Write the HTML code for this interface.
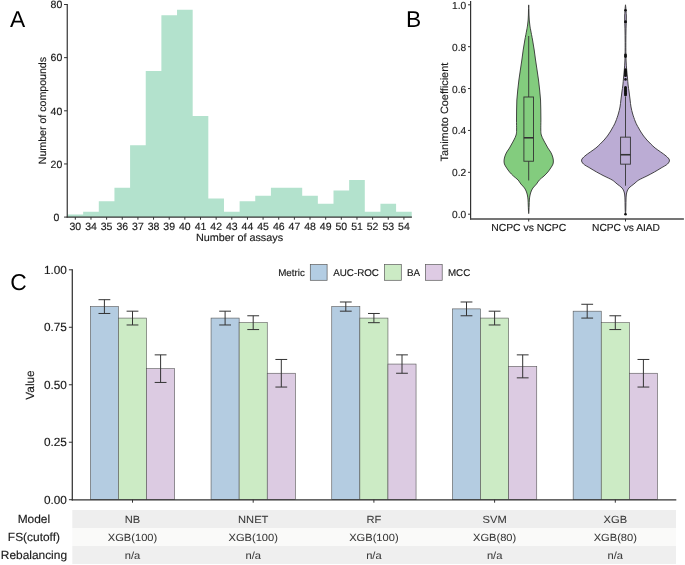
<!DOCTYPE html>
<html><head><meta charset="utf-8"><title>Figure</title>
<style>
html,body{margin:0;padding:0;background:#fff;}
body{width:685px;height:565px;overflow:hidden;}
svg{display:block;font-family:"Liberation Sans",sans-serif;will-change:transform;text-rendering:geometricPrecision;}
</style></head>
<body>
<svg width="685" height="565" viewBox="0 0 685 565">
<rect width="685" height="565" fill="#fff"/>
<path d="M67.5,217.1 L67.5,214.44 L83.15,214.44 L83.15,211.78 L98.79,211.78 L98.79,201.16 L114.44,201.16 L114.44,187.87 L130.09,187.87 L130.09,145.35 L145.73,145.35 L145.74,70.94 L161.38,70.94 L161.38,15.13 L177.03,15.13 L177.03,9.81 L192.68,9.81 L192.68,116.11 L208.32,116.11 L208.32,198.5 L223.97,198.5 L223.97,211.78 L239.62,211.78 L239.62,201.16 L255.26,201.16 L255.26,195.84 L270.91,195.84 L270.91,187.87 L286.56,187.87 L286.56,187.87 L302.2,187.87 L302.21,195.84 L317.85,195.84 L317.85,203.81 L333.5,203.81 L333.5,190.52 L349.15,190.52 L349.15,179.89 L364.79,179.89 L364.79,211.78 L380.44,211.78 L380.44,203.81 L396.09,203.81 L396.09,211.78 L411.73,211.78 L411.73,217.1 Z" fill="#b3e2cd"/>
<line x1="67.25" y1="4" x2="67.25" y2="217.6" stroke="#333333" stroke-width="1.2"/>
<line x1="64.05" y1="217.1" x2="67.25" y2="217.1" stroke="#333333" stroke-width="1"/>
<text font-size="10.5" text-anchor="middle" fill="#1a1a1a" stroke="#1a1a1a" stroke-width="0.15" transform="translate(56.45 220.86)">0</text>
<line x1="64.05" y1="163.95" x2="67.25" y2="163.95" stroke="#333333" stroke-width="1"/>
<text font-size="10.5" text-anchor="middle" fill="#1a1a1a" stroke="#1a1a1a" stroke-width="0.15" transform="translate(56.45 167.71)">20</text>
<line x1="64.05" y1="110.8" x2="67.25" y2="110.8" stroke="#333333" stroke-width="1"/>
<text font-size="10.5" text-anchor="middle" fill="#1a1a1a" stroke="#1a1a1a" stroke-width="0.15" transform="translate(56.45 114.56)">40</text>
<line x1="64.05" y1="57.65" x2="67.25" y2="57.65" stroke="#333333" stroke-width="1"/>
<text font-size="10.5" text-anchor="middle" fill="#1a1a1a" stroke="#1a1a1a" stroke-width="0.15" transform="translate(56.45 61.41)">60</text>
<line x1="64.05" y1="4.5" x2="67.25" y2="4.5" stroke="#333333" stroke-width="1"/>
<text font-size="10.5" text-anchor="middle" fill="#1a1a1a" stroke="#1a1a1a" stroke-width="0.15" transform="translate(56.45 8.26)">80</text>
<line x1="66.65" y1="217.1" x2="411.9" y2="217.1" stroke="#333333" stroke-width="1.3"/>
<line x1="75.32" y1="217.1" x2="75.32" y2="219.7" stroke="#333333" stroke-width="1"/>
<text font-size="10.5" text-anchor="middle" fill="#1a1a1a" stroke="#1a1a1a" stroke-width="0.15" transform="translate(75.32 230.1)">30</text>
<line x1="90.97" y1="217.1" x2="90.97" y2="219.7" stroke="#333333" stroke-width="1"/>
<text font-size="10.5" text-anchor="middle" fill="#1a1a1a" stroke="#1a1a1a" stroke-width="0.15" transform="translate(90.97 230.1)">34</text>
<line x1="106.62" y1="217.1" x2="106.62" y2="219.7" stroke="#333333" stroke-width="1"/>
<text font-size="10.5" text-anchor="middle" fill="#1a1a1a" stroke="#1a1a1a" stroke-width="0.15" transform="translate(106.62 230.1)">35</text>
<line x1="122.26" y1="217.1" x2="122.26" y2="219.7" stroke="#333333" stroke-width="1"/>
<text font-size="10.5" text-anchor="middle" fill="#1a1a1a" stroke="#1a1a1a" stroke-width="0.15" transform="translate(122.26 230.1)">36</text>
<line x1="137.91" y1="217.1" x2="137.91" y2="219.7" stroke="#333333" stroke-width="1"/>
<text font-size="10.5" text-anchor="middle" fill="#1a1a1a" stroke="#1a1a1a" stroke-width="0.15" transform="translate(137.91 230.1)">37</text>
<line x1="153.56" y1="217.1" x2="153.56" y2="219.7" stroke="#333333" stroke-width="1"/>
<text font-size="10.5" text-anchor="middle" fill="#1a1a1a" stroke="#1a1a1a" stroke-width="0.15" transform="translate(153.56 230.1)">38</text>
<line x1="169.21" y1="217.1" x2="169.21" y2="219.7" stroke="#333333" stroke-width="1"/>
<text font-size="10.5" text-anchor="middle" fill="#1a1a1a" stroke="#1a1a1a" stroke-width="0.15" transform="translate(169.21 230.1)">39</text>
<line x1="184.85" y1="217.1" x2="184.85" y2="219.7" stroke="#333333" stroke-width="1"/>
<text font-size="10.5" text-anchor="middle" fill="#1a1a1a" stroke="#1a1a1a" stroke-width="0.15" transform="translate(184.85 230.1)">40</text>
<line x1="200.5" y1="217.1" x2="200.5" y2="219.7" stroke="#333333" stroke-width="1"/>
<text font-size="10.5" text-anchor="middle" fill="#1a1a1a" stroke="#1a1a1a" stroke-width="0.15" transform="translate(200.5 230.1)">41</text>
<line x1="216.15" y1="217.1" x2="216.15" y2="219.7" stroke="#333333" stroke-width="1"/>
<text font-size="10.5" text-anchor="middle" fill="#1a1a1a" stroke="#1a1a1a" stroke-width="0.15" transform="translate(216.15 230.1)">42</text>
<line x1="231.79" y1="217.1" x2="231.79" y2="219.7" stroke="#333333" stroke-width="1"/>
<text font-size="10.5" text-anchor="middle" fill="#1a1a1a" stroke="#1a1a1a" stroke-width="0.15" transform="translate(231.79 230.1)">43</text>
<line x1="247.44" y1="217.1" x2="247.44" y2="219.7" stroke="#333333" stroke-width="1"/>
<text font-size="10.5" text-anchor="middle" fill="#1a1a1a" stroke="#1a1a1a" stroke-width="0.15" transform="translate(247.44 230.1)">44</text>
<line x1="263.09" y1="217.1" x2="263.09" y2="219.7" stroke="#333333" stroke-width="1"/>
<text font-size="10.5" text-anchor="middle" fill="#1a1a1a" stroke="#1a1a1a" stroke-width="0.15" transform="translate(263.09 230.1)">45</text>
<line x1="278.73" y1="217.1" x2="278.73" y2="219.7" stroke="#333333" stroke-width="1"/>
<text font-size="10.5" text-anchor="middle" fill="#1a1a1a" stroke="#1a1a1a" stroke-width="0.15" transform="translate(278.73 230.1)">46</text>
<line x1="294.38" y1="217.1" x2="294.38" y2="219.7" stroke="#333333" stroke-width="1"/>
<text font-size="10.5" text-anchor="middle" fill="#1a1a1a" stroke="#1a1a1a" stroke-width="0.15" transform="translate(294.38 230.1)">47</text>
<line x1="310.03" y1="217.1" x2="310.03" y2="219.7" stroke="#333333" stroke-width="1"/>
<text font-size="10.5" text-anchor="middle" fill="#1a1a1a" stroke="#1a1a1a" stroke-width="0.15" transform="translate(310.03 230.1)">48</text>
<line x1="325.68" y1="217.1" x2="325.68" y2="219.7" stroke="#333333" stroke-width="1"/>
<text font-size="10.5" text-anchor="middle" fill="#1a1a1a" stroke="#1a1a1a" stroke-width="0.15" transform="translate(325.68 230.1)">49</text>
<line x1="341.32" y1="217.1" x2="341.32" y2="219.7" stroke="#333333" stroke-width="1"/>
<text font-size="10.5" text-anchor="middle" fill="#1a1a1a" stroke="#1a1a1a" stroke-width="0.15" transform="translate(341.32 230.1)">50</text>
<line x1="356.97" y1="217.1" x2="356.97" y2="219.7" stroke="#333333" stroke-width="1"/>
<text font-size="10.5" text-anchor="middle" fill="#1a1a1a" stroke="#1a1a1a" stroke-width="0.15" transform="translate(356.97 230.1)">51</text>
<line x1="372.62" y1="217.1" x2="372.62" y2="219.7" stroke="#333333" stroke-width="1"/>
<text font-size="10.5" text-anchor="middle" fill="#1a1a1a" stroke="#1a1a1a" stroke-width="0.15" transform="translate(372.62 230.1)">52</text>
<line x1="388.26" y1="217.1" x2="388.26" y2="219.7" stroke="#333333" stroke-width="1"/>
<text font-size="10.5" text-anchor="middle" fill="#1a1a1a" stroke="#1a1a1a" stroke-width="0.15" transform="translate(388.26 230.1)">53</text>
<line x1="403.91" y1="217.1" x2="403.91" y2="219.7" stroke="#333333" stroke-width="1"/>
<text font-size="10.5" text-anchor="middle" fill="#1a1a1a" stroke="#1a1a1a" stroke-width="0.15" transform="translate(403.91 230.1)">54</text>
<text font-size="10.5" text-anchor="middle" fill="#1a1a1a" stroke="#1a1a1a" stroke-width="0.15" transform="translate(239.5 241.3) scale(1.03 1)">Number of assays</text>
<text font-size="10.5" text-anchor="middle" fill="#1a1a1a" stroke="#1a1a1a" stroke-width="0.15" transform="translate(46 110.6) rotate(-90) scale(1.01 1)">Number of compounds</text>
<text font-size="22.8" text-anchor="start" fill="#000" transform="translate(10 26.8)">A</text>
<path d="M528.7,4.9 C528.73,5.75 528.85,8.32 528.9,10 C528.95,11.68 528.94,13.33 529,15 C529.06,16.67 529.12,18.33 529.25,20 C529.38,21.67 529.57,23.33 529.8,25 C530.03,26.67 530.19,27.5 530.65,30 C531.11,32.5 531.96,36.67 532.55,40 C533.14,43.33 533.7,46.67 534.2,50 C534.7,53.33 535.08,56.67 535.55,60 C536.03,63.33 536.56,66.67 537.05,70 C537.54,73.33 538.07,76.67 538.5,80 C538.93,83.33 539.31,86.67 539.65,90 C539.99,93.33 540.36,96.67 540.55,100 C540.74,103.33 540.74,106.67 540.8,110 C540.86,113.33 540.9,116.67 540.9,120 C540.9,123.33 540.73,127.5 540.8,130 C540.87,132.5 540.85,133.33 541.3,135 C541.75,136.67 542.77,138.5 543.5,140 C544.23,141.5 544.97,142.67 545.7,144 C546.43,145.33 547.08,146.67 547.9,148 C548.72,149.33 549.85,150.67 550.6,152 C551.35,153.33 551.95,154.67 552.4,156 C552.85,157.33 553.2,158.67 553.3,160 C553.4,161.33 553.43,162.67 553,164 C552.57,165.33 551.56,166.67 550.7,168 C549.84,169.33 548.97,170.67 547.85,172 C546.73,173.33 545.42,174.67 544,176 C542.58,177.33 540.55,178.67 539.3,180 C538.05,181.33 537.57,182.67 536.5,184 C535.43,185.33 533.83,186.67 532.9,188 C531.97,189.33 531.41,190.67 530.9,192 C530.39,193.33 530.11,194.67 529.85,196 C529.59,197.33 529.47,198.5 529.35,200 C529.23,201.5 529.22,203.33 529.15,205 C529.08,206.67 529.03,208.57 528.95,210 C528.88,211.43 528.78,213.6 528.7,213.6 C528.62,213.6 528.53,211.43 528.45,210 C528.38,208.57 528.32,206.67 528.25,205 C528.18,203.33 528.17,201.5 528.05,200 C527.93,198.5 527.81,197.33 527.55,196 C527.29,194.67 527.01,193.33 526.5,192 C525.99,190.67 525.43,189.33 524.5,188 C523.57,186.67 521.97,185.33 520.9,184 C519.83,182.67 519.35,181.33 518.1,180 C516.85,178.67 514.83,177.33 513.4,176 C511.98,174.67 510.67,173.33 509.55,172 C508.43,170.67 507.56,169.33 506.7,168 C505.84,166.67 504.83,165.33 504.4,164 C503.97,162.67 504,161.33 504.1,160 C504.2,158.67 504.55,157.33 505,156 C505.45,154.67 506.05,153.33 506.8,152 C507.55,150.67 508.68,149.33 509.5,148 C510.32,146.67 510.97,145.33 511.7,144 C512.43,142.67 513.17,141.5 513.9,140 C514.63,138.5 515.65,136.67 516.1,135 C516.55,133.33 516.53,132.5 516.6,130 C516.67,127.5 516.5,123.33 516.5,120 C516.5,116.67 516.54,113.33 516.6,110 C516.66,106.67 516.66,103.33 516.85,100 C517.04,96.67 517.41,93.33 517.75,90 C518.09,86.67 518.47,83.33 518.9,80 C519.33,76.67 519.86,73.33 520.35,70 C520.84,66.67 521.38,63.33 521.85,60 C522.33,56.67 522.7,53.33 523.2,50 C523.7,46.67 524.26,43.33 524.85,40 C525.44,36.67 526.29,32.5 526.75,30 C527.21,27.5 527.37,26.67 527.6,25 C527.83,23.33 528.02,21.67 528.15,20 C528.28,18.33 528.34,16.67 528.4,15 C528.46,13.33 528.45,11.68 528.5,10 C528.55,8.32 528.67,5.75 528.7,4.9 Z" fill="#83cc7e" stroke="#333" stroke-width="0.9" stroke-linejoin="round"/>
<path d="M625.5,4.8 C625.56,5.33 625.77,6.97 625.85,8 C625.93,9.03 625.92,9.67 626,11 C626.08,12.33 626.3,14.33 626.35,16 C626.4,17.67 626.34,19.33 626.3,21 C626.26,22.67 626.16,24.17 626.1,26 C626.04,27.83 625.99,29.67 625.95,32 C625.91,34.33 625.87,37 625.85,40 C625.83,43 625.83,47.33 625.85,50 C625.87,52.67 625.9,54 625.95,56 C626,58 626.02,59.67 626.15,62 C626.27,64.33 626.48,67.33 626.7,70 C626.93,72.67 627.27,75.5 627.5,78 C627.73,80.5 627.83,82.67 628.1,85 C628.37,87.33 628.77,89.5 629.1,92 C629.43,94.5 629.78,97.5 630.1,100 C630.42,102.5 630.57,104.67 631,107 C631.43,109.33 632.02,111.67 632.7,114 C633.38,116.33 634.4,119.17 635.1,121 C635.8,122.83 636.32,123.83 636.9,125 C637.48,126.17 637.93,126.83 638.6,128 C639.27,129.17 640.07,130.67 640.9,132 C641.73,133.33 642.6,134.67 643.6,136 C644.6,137.33 645.7,138.67 646.9,140 C648.1,141.33 649.43,142.67 650.8,144 C652.17,145.33 653.45,146.67 655.1,148 C656.75,149.33 658.87,150.67 660.7,152 C662.53,153.33 664.65,154.67 666.1,156 C667.55,157.33 669.17,158.67 669.4,160 C669.63,161.33 668.88,162.67 667.5,164 C666.12,165.33 663.28,166.67 661.1,168 C658.92,169.33 656.77,170.67 654.4,172 C652.03,173.33 649.5,174.67 646.9,176 C644.3,177.33 640.97,178.67 638.8,180 C636.63,181.33 635.55,182.67 633.9,184 C632.25,185.33 630.07,186.67 628.9,188 C627.73,189.33 627.3,190.67 626.85,192 C626.4,193.33 626.34,194.67 626.2,196 C626.06,197.33 626.05,198.5 626,200 C625.95,201.5 625.93,203.33 625.9,205 C625.87,206.67 625.87,208.45 625.8,210 C625.73,211.55 625.6,214.3 625.5,214.3 C625.4,214.3 625.27,211.55 625.2,210 C625.13,208.45 625.13,206.67 625.1,205 C625.07,203.33 625.05,201.5 625,200 C624.95,198.5 624.94,197.33 624.8,196 C624.66,194.67 624.6,193.33 624.15,192 C623.7,190.67 623.27,189.33 622.1,188 C620.93,186.67 618.75,185.33 617.1,184 C615.45,182.67 614.37,181.33 612.2,180 C610.03,178.67 606.7,177.33 604.1,176 C601.5,174.67 598.97,173.33 596.6,172 C594.23,170.67 592.08,169.33 589.9,168 C587.72,166.67 584.88,165.33 583.5,164 C582.12,162.67 581.37,161.33 581.6,160 C581.83,158.67 583.45,157.33 584.9,156 C586.35,154.67 588.47,153.33 590.3,152 C592.13,150.67 594.25,149.33 595.9,148 C597.55,146.67 598.83,145.33 600.2,144 C601.57,142.67 602.9,141.33 604.1,140 C605.3,138.67 606.4,137.33 607.4,136 C608.4,134.67 609.27,133.33 610.1,132 C610.93,130.67 611.73,129.17 612.4,128 C613.07,126.83 613.52,126.17 614.1,125 C614.68,123.83 615.2,122.83 615.9,121 C616.6,119.17 617.62,116.33 618.3,114 C618.98,111.67 619.57,109.33 620,107 C620.43,104.67 620.58,102.5 620.9,100 C621.22,97.5 621.57,94.5 621.9,92 C622.23,89.5 622.63,87.33 622.9,85 C623.17,82.67 623.27,80.5 623.5,78 C623.73,75.5 624.07,72.67 624.3,70 C624.52,67.33 624.73,64.33 624.85,62 C624.98,59.67 625,58 625.05,56 C625.1,54 625.13,52.67 625.15,50 C625.17,47.33 625.17,43 625.15,40 C625.13,37 625.09,34.33 625.05,32 C625.01,29.67 624.96,27.83 624.9,26 C624.84,24.17 624.74,22.67 624.7,21 C624.66,19.33 624.6,17.67 624.65,16 C624.7,14.33 624.92,12.33 625,11 C625.08,9.67 625.07,9.03 625.15,8 C625.23,6.97 625.44,5.33 625.5,4.8 Z" fill="#bbacd4" stroke="#333" stroke-width="0.9" stroke-linejoin="round"/>
<line x1="528.7" y1="36" x2="528.7" y2="97" stroke="#333" stroke-width="0.9"/>
<line x1="528.7" y1="161.22" x2="528.7" y2="180.49" stroke="#333" stroke-width="0.9"/>
<rect x="523.9" y="97" width="9.6" height="64.22" fill="none" stroke="#333" stroke-width="0.9"/>
<line x1="523.9" y1="137.77" x2="533.5" y2="137.77" stroke="#333" stroke-width="1.6"/>
<line x1="625.5" y1="96.52" x2="625.5" y2="137.14" stroke="#333" stroke-width="0.9"/>
<line x1="625.5" y1="164.15" x2="625.5" y2="185.72" stroke="#333" stroke-width="0.9"/>
<rect x="620.6" y="137.14" width="9.8" height="27.01" fill="none" stroke="#333" stroke-width="0.9"/>
<line x1="620.6" y1="154.73" x2="630.4" y2="154.73" stroke="#333" stroke-width="1.6"/>
<circle cx="625.5" cy="10.2" r="1.3" fill="#111"/>
<circle cx="625.5" cy="21.8" r="1.5" fill="#111"/>
<circle cx="625.5" cy="55" r="1.4" fill="#111"/>
<circle cx="625.5" cy="56.5" r="1.4" fill="#111"/>
<circle cx="625.5" cy="69.8" r="1.5" fill="#111"/>
<circle cx="625.5" cy="71.2" r="1.5" fill="#111"/>
<circle cx="625.5" cy="72.6" r="1.5" fill="#111"/>
<circle cx="625.5" cy="74" r="1.5" fill="#111"/>
<circle cx="625.5" cy="75.4" r="1.5" fill="#111"/>
<circle cx="625.5" cy="79.4" r="1.3" fill="#111"/>
<circle cx="625.5" cy="87.6" r="1.5" fill="#111"/>
<circle cx="625.5" cy="89" r="1.5" fill="#111"/>
<circle cx="625.5" cy="90.4" r="1.5" fill="#111"/>
<circle cx="625.5" cy="91.8" r="1.5" fill="#111"/>
<circle cx="625.5" cy="93.2" r="1.5" fill="#111"/>
<circle cx="625.5" cy="94.8" r="1.5" fill="#111"/>
<circle cx="625.5" cy="214.3" r="1.3" fill="#111"/>
<line x1="470.6" y1="1" x2="470.6" y2="219.5" stroke="#333333" stroke-width="1.2"/>
<line x1="468" y1="214.2" x2="470.6" y2="214.2" stroke="#333333" stroke-width="1"/>
<text font-size="10.2" text-anchor="end" fill="#1a1a1a" stroke="#1a1a1a" stroke-width="0.15" transform="translate(466.2 218.2)">0.0</text>
<line x1="468" y1="172.32" x2="470.6" y2="172.32" stroke="#333333" stroke-width="1"/>
<text font-size="10.2" text-anchor="end" fill="#1a1a1a" stroke="#1a1a1a" stroke-width="0.15" transform="translate(466.2 176.32)">0.2</text>
<line x1="468" y1="130.44" x2="470.6" y2="130.44" stroke="#333333" stroke-width="1"/>
<text font-size="10.2" text-anchor="end" fill="#1a1a1a" stroke="#1a1a1a" stroke-width="0.15" transform="translate(466.2 134.44)">0.4</text>
<line x1="468" y1="88.56" x2="470.6" y2="88.56" stroke="#333333" stroke-width="1"/>
<text font-size="10.2" text-anchor="end" fill="#1a1a1a" stroke="#1a1a1a" stroke-width="0.15" transform="translate(466.2 92.56)">0.6</text>
<line x1="468" y1="46.68" x2="470.6" y2="46.68" stroke="#333333" stroke-width="1"/>
<text font-size="10.2" text-anchor="end" fill="#1a1a1a" stroke="#1a1a1a" stroke-width="0.15" transform="translate(466.2 50.68)">0.8</text>
<line x1="468" y1="4.8" x2="470.6" y2="4.8" stroke="#333333" stroke-width="1"/>
<text font-size="10.2" text-anchor="end" fill="#1a1a1a" stroke="#1a1a1a" stroke-width="0.15" transform="translate(466.2 8.8)">1.0</text>
<line x1="470" y1="218.9" x2="683.9" y2="218.9" stroke="#474747" stroke-width="1.5"/>
<line x1="528.7" y1="218.9" x2="528.7" y2="221.5" stroke="#333333" stroke-width="1"/>
<text font-size="10.2" text-anchor="middle" fill="#1a1a1a" stroke="#1a1a1a" stroke-width="0.15" transform="translate(528.7 231) scale(1.02 1)">NCPC vs NCPC</text>
<line x1="625.5" y1="218.9" x2="625.5" y2="221.5" stroke="#333333" stroke-width="1"/>
<text font-size="10.2" text-anchor="middle" fill="#1a1a1a" stroke="#1a1a1a" stroke-width="0.15" transform="translate(626 231)">NCPC vs AIAD</text>
<text font-size="10.6" text-anchor="middle" fill="#1a1a1a" stroke="#1a1a1a" stroke-width="0.15" transform="translate(448 112.1) rotate(-90) scale(1.03 1)">Tanimoto Coefficient</text>
<text font-size="22.8" text-anchor="start" fill="#000" transform="translate(405.9 26.8)">B</text>
<rect x="90.35" y="306.58" width="28.1" height="193.12" fill="#b4cce1" stroke="#555" stroke-width="0.6"/>
<rect x="118.45" y="318.08" width="28.1" height="181.62" fill="#ccebc5" stroke="#555" stroke-width="0.6"/>
<rect x="146.55" y="368.66" width="28.1" height="131.04" fill="#dccbe2" stroke="#555" stroke-width="0.6"/>
<line x1="104.4" y1="299.69" x2="104.4" y2="313.48" stroke="#333" stroke-width="1"/>
<line x1="98.5" y1="299.69" x2="110.3" y2="299.69" stroke="#333" stroke-width="1"/>
<line x1="98.5" y1="313.48" x2="110.3" y2="313.48" stroke="#333" stroke-width="1"/>
<line x1="132.5" y1="311.18" x2="132.5" y2="324.98" stroke="#333" stroke-width="1"/>
<line x1="126.6" y1="311.18" x2="138.4" y2="311.18" stroke="#333" stroke-width="1"/>
<line x1="126.6" y1="324.98" x2="138.4" y2="324.98" stroke="#333" stroke-width="1"/>
<line x1="160.6" y1="354.86" x2="160.6" y2="382.45" stroke="#333" stroke-width="1"/>
<line x1="154.7" y1="354.86" x2="166.5" y2="354.86" stroke="#333" stroke-width="1"/>
<line x1="154.7" y1="382.45" x2="166.5" y2="382.45" stroke="#333" stroke-width="1"/>
<rect x="211.05" y="318.08" width="28.1" height="181.62" fill="#b4cce1" stroke="#555" stroke-width="0.6"/>
<rect x="239.15" y="322.68" width="28.1" height="177.02" fill="#ccebc5" stroke="#555" stroke-width="0.6"/>
<rect x="267.25" y="373.25" width="28.1" height="126.44" fill="#dccbe2" stroke="#555" stroke-width="0.6"/>
<line x1="225.1" y1="311.18" x2="225.1" y2="324.98" stroke="#333" stroke-width="1"/>
<line x1="219.2" y1="311.18" x2="231" y2="311.18" stroke="#333" stroke-width="1"/>
<line x1="219.2" y1="324.98" x2="231" y2="324.98" stroke="#333" stroke-width="1"/>
<line x1="253.2" y1="315.78" x2="253.2" y2="329.57" stroke="#333" stroke-width="1"/>
<line x1="247.3" y1="315.78" x2="259.1" y2="315.78" stroke="#333" stroke-width="1"/>
<line x1="247.3" y1="329.57" x2="259.1" y2="329.57" stroke="#333" stroke-width="1"/>
<line x1="281.3" y1="359.46" x2="281.3" y2="387.05" stroke="#333" stroke-width="1"/>
<line x1="275.4" y1="359.46" x2="287.2" y2="359.46" stroke="#333" stroke-width="1"/>
<line x1="275.4" y1="387.05" x2="287.2" y2="387.05" stroke="#333" stroke-width="1"/>
<rect x="331.75" y="306.58" width="28.1" height="193.12" fill="#b4cce1" stroke="#555" stroke-width="0.6"/>
<rect x="359.85" y="318.08" width="28.1" height="181.62" fill="#ccebc5" stroke="#555" stroke-width="0.6"/>
<rect x="387.95" y="364.06" width="28.1" height="135.64" fill="#dccbe2" stroke="#555" stroke-width="0.6"/>
<line x1="345.8" y1="301.99" x2="345.8" y2="311.18" stroke="#333" stroke-width="1"/>
<line x1="339.9" y1="301.99" x2="351.7" y2="301.99" stroke="#333" stroke-width="1"/>
<line x1="339.9" y1="311.18" x2="351.7" y2="311.18" stroke="#333" stroke-width="1"/>
<line x1="373.9" y1="313.48" x2="373.9" y2="322.68" stroke="#333" stroke-width="1"/>
<line x1="368" y1="313.48" x2="379.8" y2="313.48" stroke="#333" stroke-width="1"/>
<line x1="368" y1="322.68" x2="379.8" y2="322.68" stroke="#333" stroke-width="1"/>
<line x1="402" y1="354.86" x2="402" y2="373.25" stroke="#333" stroke-width="1"/>
<line x1="396.1" y1="354.86" x2="407.9" y2="354.86" stroke="#333" stroke-width="1"/>
<line x1="396.1" y1="373.25" x2="407.9" y2="373.25" stroke="#333" stroke-width="1"/>
<rect x="452.45" y="308.88" width="28.1" height="190.82" fill="#b4cce1" stroke="#555" stroke-width="0.6"/>
<rect x="480.55" y="318.08" width="28.1" height="181.62" fill="#ccebc5" stroke="#555" stroke-width="0.6"/>
<rect x="508.65" y="366.36" width="28.1" height="133.34" fill="#dccbe2" stroke="#555" stroke-width="0.6"/>
<line x1="466.5" y1="301.99" x2="466.5" y2="315.78" stroke="#333" stroke-width="1"/>
<line x1="460.6" y1="301.99" x2="472.4" y2="301.99" stroke="#333" stroke-width="1"/>
<line x1="460.6" y1="315.78" x2="472.4" y2="315.78" stroke="#333" stroke-width="1"/>
<line x1="494.6" y1="311.18" x2="494.6" y2="324.98" stroke="#333" stroke-width="1"/>
<line x1="488.7" y1="311.18" x2="500.5" y2="311.18" stroke="#333" stroke-width="1"/>
<line x1="488.7" y1="324.98" x2="500.5" y2="324.98" stroke="#333" stroke-width="1"/>
<line x1="522.7" y1="354.86" x2="522.7" y2="377.85" stroke="#333" stroke-width="1"/>
<line x1="516.8" y1="354.86" x2="528.6" y2="354.86" stroke="#333" stroke-width="1"/>
<line x1="516.8" y1="377.85" x2="528.6" y2="377.85" stroke="#333" stroke-width="1"/>
<rect x="573.15" y="311.18" width="28.1" height="188.52" fill="#b4cce1" stroke="#555" stroke-width="0.6"/>
<rect x="601.25" y="322.68" width="28.1" height="177.02" fill="#ccebc5" stroke="#555" stroke-width="0.6"/>
<rect x="629.35" y="373.25" width="28.1" height="126.44" fill="#dccbe2" stroke="#555" stroke-width="0.6"/>
<line x1="587.2" y1="304.28" x2="587.2" y2="318.08" stroke="#333" stroke-width="1"/>
<line x1="581.3" y1="304.28" x2="593.1" y2="304.28" stroke="#333" stroke-width="1"/>
<line x1="581.3" y1="318.08" x2="593.1" y2="318.08" stroke="#333" stroke-width="1"/>
<line x1="615.3" y1="315.78" x2="615.3" y2="329.57" stroke="#333" stroke-width="1"/>
<line x1="609.4" y1="315.78" x2="621.2" y2="315.78" stroke="#333" stroke-width="1"/>
<line x1="609.4" y1="329.57" x2="621.2" y2="329.57" stroke="#333" stroke-width="1"/>
<line x1="643.4" y1="359.46" x2="643.4" y2="387.05" stroke="#333" stroke-width="1"/>
<line x1="637.5" y1="359.46" x2="649.3" y2="359.46" stroke="#333" stroke-width="1"/>
<line x1="637.5" y1="387.05" x2="649.3" y2="387.05" stroke="#333" stroke-width="1"/>
<line x1="72.3" y1="269.2" x2="72.3" y2="500.5" stroke="#333333" stroke-width="1.25"/>
<line x1="68.9" y1="499.7" x2="72.3" y2="499.7" stroke="#333333" stroke-width="1"/>
<text font-size="11.8" text-anchor="end" fill="#1a1a1a" stroke="#1a1a1a" stroke-width="0.15" transform="translate(66.9 503.8)">0.00</text>
<line x1="68.9" y1="442.22" x2="72.3" y2="442.22" stroke="#333333" stroke-width="1"/>
<text font-size="11.8" text-anchor="end" fill="#1a1a1a" stroke="#1a1a1a" stroke-width="0.15" transform="translate(66.9 446.32)">0.25</text>
<line x1="68.9" y1="384.75" x2="72.3" y2="384.75" stroke="#333333" stroke-width="1"/>
<text font-size="11.8" text-anchor="end" fill="#1a1a1a" stroke="#1a1a1a" stroke-width="0.15" transform="translate(66.9 388.85)">0.50</text>
<line x1="68.9" y1="327.27" x2="72.3" y2="327.27" stroke="#333333" stroke-width="1"/>
<text font-size="11.8" text-anchor="end" fill="#1a1a1a" stroke="#1a1a1a" stroke-width="0.15" transform="translate(66.9 331.38)">0.75</text>
<line x1="68.9" y1="269.8" x2="72.3" y2="269.8" stroke="#333333" stroke-width="1"/>
<text font-size="11.8" text-anchor="end" fill="#1a1a1a" stroke="#1a1a1a" stroke-width="0.15" transform="translate(66.9 273.9)">1.00</text>
<line x1="71.7" y1="499.9" x2="676.3" y2="499.9" stroke="#333333" stroke-width="1.35"/>
<line x1="132.5" y1="499.7" x2="132.5" y2="502.7" stroke="#333333" stroke-width="1"/>
<line x1="253.2" y1="499.7" x2="253.2" y2="502.7" stroke="#333333" stroke-width="1"/>
<line x1="373.9" y1="499.7" x2="373.9" y2="502.7" stroke="#333333" stroke-width="1"/>
<line x1="494.6" y1="499.7" x2="494.6" y2="502.7" stroke="#333333" stroke-width="1"/>
<line x1="615.3" y1="499.7" x2="615.3" y2="502.7" stroke="#333333" stroke-width="1"/>
<text font-size="11.8" text-anchor="middle" fill="#1a1a1a" stroke="#1a1a1a" stroke-width="0.15" transform="translate(33.9 385) rotate(-90)">Value</text>
<text font-size="22.8" text-anchor="start" fill="#000" transform="translate(10.3 289.5)">C</text>
<text font-size="9.8" text-anchor="start" fill="#1a1a1a" stroke="#1a1a1a" stroke-width="0.15" transform="translate(278.2 276)">Metric</text>
<rect x="310.3" y="264.6" width="16.8" height="15.7" fill="#b3cde3" stroke="#5a5a5a" stroke-width="0.7"/>
<text font-size="9.8" text-anchor="start" fill="#1a1a1a" stroke="#1a1a1a" stroke-width="0.15" transform="translate(333.2 276)">AUC-ROC</text>
<rect x="384.5" y="264.6" width="16.8" height="15.7" fill="#ccebc5" stroke="#5a5a5a" stroke-width="0.7"/>
<text font-size="9.8" text-anchor="start" fill="#1a1a1a" stroke="#1a1a1a" stroke-width="0.15" transform="translate(407 276)">BA</text>
<rect x="425.4" y="264.6" width="16.8" height="15.7" fill="#decbe4" stroke="#5a5a5a" stroke-width="0.7"/>
<text font-size="9.8" text-anchor="start" fill="#1a1a1a" stroke="#1a1a1a" stroke-width="0.15" transform="translate(447.9 276)">MCC</text>
<rect x="72.3" y="510" width="603.7" height="18" fill="#eeeeee"/>
<text font-size="11.8" text-anchor="middle" fill="#1a1a1a" stroke="#1a1a1a" stroke-width="0.15" transform="translate(33.9 523) scale(1.01 1)">Model</text>
<text font-size="10.4" text-anchor="middle" fill="#383838" stroke="#383838" stroke-width="0.05" transform="translate(132.5 522.7) scale(1.07 1)">NB</text>
<text font-size="10.4" text-anchor="middle" fill="#383838" stroke="#383838" stroke-width="0.05" transform="translate(253.2 522.7) scale(1.07 1)">NNET</text>
<text font-size="10.4" text-anchor="middle" fill="#383838" stroke="#383838" stroke-width="0.05" transform="translate(373.9 522.7) scale(1.07 1)">RF</text>
<text font-size="10.4" text-anchor="middle" fill="#383838" stroke="#383838" stroke-width="0.05" transform="translate(494.6 522.7) scale(1.07 1)">SVM</text>
<text font-size="10.4" text-anchor="middle" fill="#383838" stroke="#383838" stroke-width="0.05" transform="translate(615.3 522.7) scale(1.07 1)">XGB</text>
<rect x="72.3" y="528" width="603.7" height="18" fill="#fafaf9"/>
<text font-size="11.8" text-anchor="middle" fill="#1a1a1a" stroke="#1a1a1a" stroke-width="0.15" transform="translate(33.9 541) scale(1.01 1)">FS(cutoff)</text>
<text font-size="10.4" text-anchor="middle" fill="#383838" stroke="#383838" stroke-width="0.05" transform="translate(132.5 540.7) scale(1.07 1)">XGB(100)</text>
<text font-size="10.4" text-anchor="middle" fill="#383838" stroke="#383838" stroke-width="0.05" transform="translate(253.2 540.7) scale(1.07 1)">XGB(100)</text>
<text font-size="10.4" text-anchor="middle" fill="#383838" stroke="#383838" stroke-width="0.05" transform="translate(373.9 540.7) scale(1.07 1)">XGB(100)</text>
<text font-size="10.4" text-anchor="middle" fill="#383838" stroke="#383838" stroke-width="0.05" transform="translate(494.6 540.7) scale(1.07 1)">XGB(80)</text>
<text font-size="10.4" text-anchor="middle" fill="#383838" stroke="#383838" stroke-width="0.05" transform="translate(615.3 540.7) scale(1.07 1)">XGB(80)</text>
<rect x="72.3" y="546" width="603.7" height="18" fill="#efefef"/>
<text font-size="11.8" text-anchor="middle" fill="#1a1a1a" stroke="#1a1a1a" stroke-width="0.15" transform="translate(33.9 559) scale(1.01 1)">Rebalancing</text>
<text font-size="10.4" text-anchor="middle" fill="#383838" stroke="#383838" stroke-width="0.05" transform="translate(132.5 558.7) scale(1.07 1)">n/a</text>
<text font-size="10.4" text-anchor="middle" fill="#383838" stroke="#383838" stroke-width="0.05" transform="translate(253.2 558.7) scale(1.07 1)">n/a</text>
<text font-size="10.4" text-anchor="middle" fill="#383838" stroke="#383838" stroke-width="0.05" transform="translate(373.9 558.7) scale(1.07 1)">n/a</text>
<text font-size="10.4" text-anchor="middle" fill="#383838" stroke="#383838" stroke-width="0.05" transform="translate(494.6 558.7) scale(1.07 1)">n/a</text>
<text font-size="10.4" text-anchor="middle" fill="#383838" stroke="#383838" stroke-width="0.05" transform="translate(615.3 558.7) scale(1.07 1)">n/a</text>
</svg>
</body></html>
